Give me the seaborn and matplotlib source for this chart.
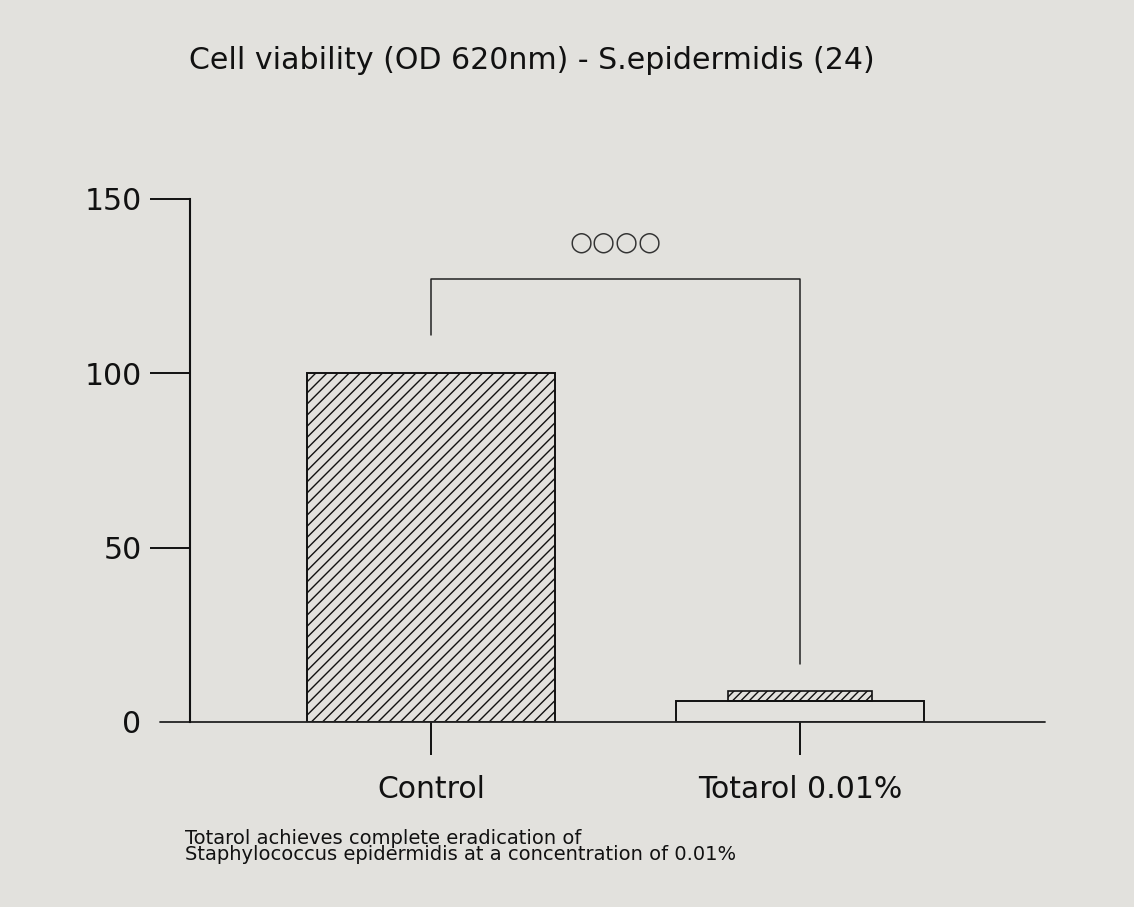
import matplotlib
matplotlib.use('Agg')

import pandas as pd
import matplotlib.pyplot as plt
import seaborn as sns

# valores
grupos = ["Control", "Totarol 0.01%"]
viabilidad = [100, 6]
desv_totarol = 3.0
yticks = [0, 50, 100, 150]

# corchete de significancia: altura superior y extremos izquierdo/derecho
corchete_top = 127
corchete_bajos = [111, 16.5]
marca_sig = "○○○○"

titulo = "Cell viability (OD 620nm) - S.epidermidis (24)"
nota = ("Totarol achieves complete eradication of\n"
        "Staphylococcus epidermidis at a concentration of 0.01%")

fondo = "#e2e1dd"
tinta = "#111111"

sns.set_theme(style="white")
plt.rcParams['font.family'] = ['DejaVu Sans']
plt.rcParams['hatch.linewidth'] = 1.0
plt.rcParams['hatch.color'] = "#222222"

df = pd.DataFrame({"grupo": grupos, "valor": viabilidad})

fig = plt.figure(figsize=(11.34, 9.07), dpi=100, facecolor=fondo)
ax = fig.add_axes([0.1676, 0.204, 0.754, 0.5766])
ax.set_facecolor(fondo)

sns.barplot(data=df, x="grupo", y="valor", ax=ax, width=0.67,
            errorbar=None, color=fondo)

for i, barra in enumerate(ax.patches):
    barra.set_facecolor("none")
    barra.set_edgecolor(tinta)
    barra.set_linewidth(1.4)
    if i == 0:
        barra.set_hatch("///")

# desviacion del grupo Totarol dibujada como bloque rayado
ax.bar([1], [desv_totarol], bottom=[viabilidad[1]], width=0.39,
       facecolor="none", edgecolor=tinta, hatch="////", linewidth=1.2)

# corchete
ax.plot([0, 0, 1, 1], [corchete_bajos[0], corchete_top, corchete_top, corchete_bajos[1]],
        color="#222222", lw=1.1)
ax.text(0.5, corchete_top + 10.5, marca_sig, ha="center", va="center",
        fontsize=19, color="#333333")

ax.set_xlim(-0.653, 1.664)
ax.set_ylim(0, 150)
ax.set_yticks(yticks)
ax.set_xlabel("")
ax.set_ylabel("")

sns.despine(ax=ax, top=True, right=True)
ax.spines['bottom'].set_visible(False)
ax.spines['left'].set_linewidth(1.5)
ax.spines['left'].set_color(tinta)

# linea base extendida a la izquierda del eje
ax.plot([-0.734, 1.664], [0, 0], color="#222222", lw=1.3, clip_on=False)

ax.tick_params(axis="y", left=True, length=29, width=1.4, pad=6,
               labelsize=21.5, color=tinta)
ax.tick_params(axis="x", bottom=True, length=24, width=1.4, pad=14,
               labelsize=21.5, color=tinta, direction="out")
for t in ax.get_yticklabels() + ax.get_xticklabels():
    t.set_color(tinta)
ax.yaxis.get_major_ticks()[0].tick1line.set_visible(False)

fig.text(0.469, 0.924, titulo, ha="center", va="baseline", fontsize=21.6, color=tinta)
fig.text(0.163, 0.0518, nota, ha="left", va="baseline", fontsize=14,
         color=tinta, linespacing=0.82)

plt.savefig("out.png", dpi=100, facecolor=fondo)
plt.close()
